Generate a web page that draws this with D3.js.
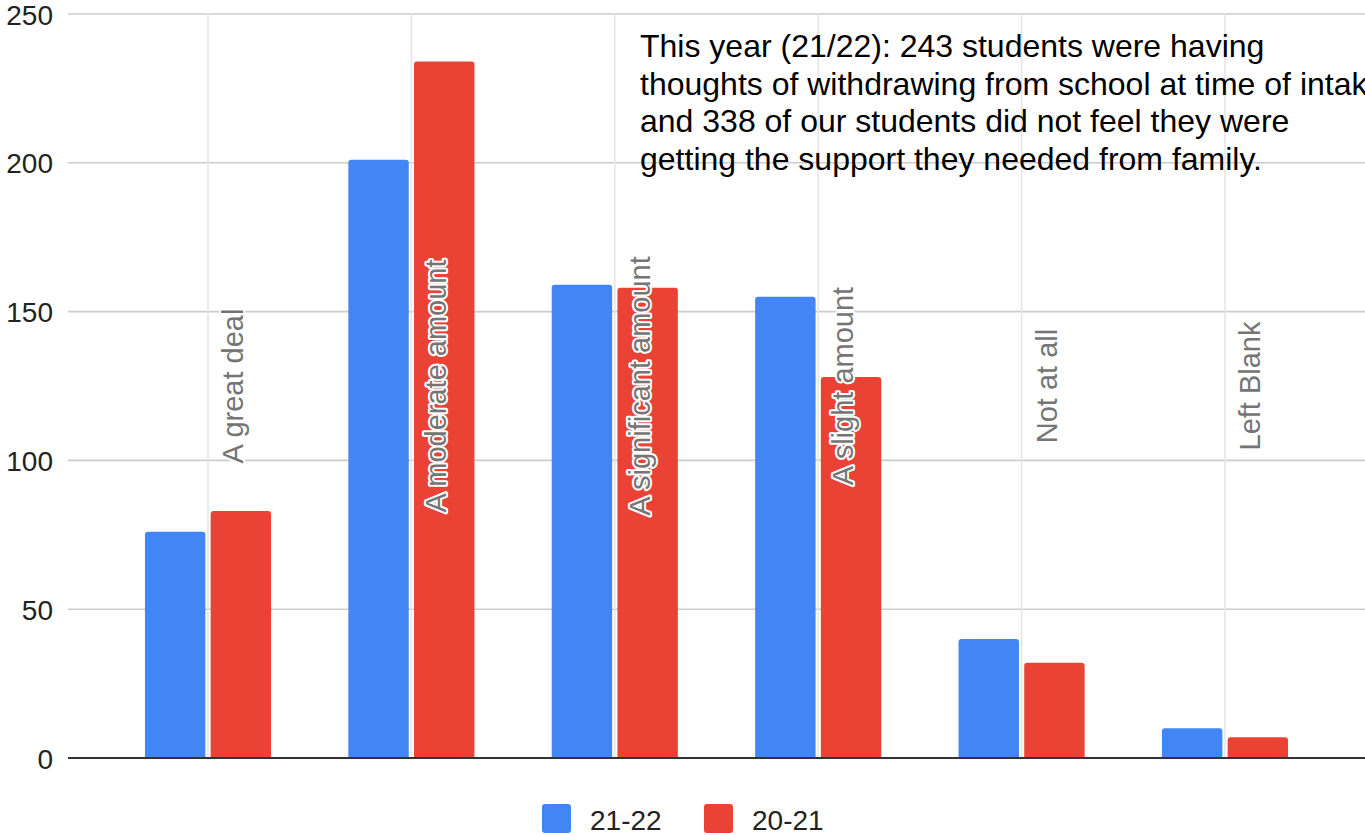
<!DOCTYPE html>
<html>
<head>
<meta charset="utf-8">
<script src="https://cdn.jsdelivr.net/npm/d3@7"></script>
<style>
  html, body { margin: 0; padding: 0; background: #fff; }
  svg { display: block; font-family: "Liberation Sans", Arial, sans-serif; }
</style>
</head>
<body>
<svg id="chart" width="1365" height="835"></svg>
<script>
// Responses per category, two intake years
const categories = ["A great deal", "A moderate amount", "A significant amount", "A slight amount", "Not at all", "Left Blank"];
const seriesNames = ["21-22", "20-21"];
const values2122 = [76, 201, 159, 155, 40, 10];
const values2021 = [83, 234, 158, 128, 32, 7];
const yTicks = [0, 50, 100, 150, 200, 250];
const noteLines = [
  "This year (21/22): 243 students were having",
  "thoughts of withdrawing from school at time of intake",
  "and 338 of our students did not feel they were",
  "getting the support they needed from family."
];
const colors = ["#4285F4", "#EA4335"];

const svg = d3.select("#chart");
const W = 1365, H = 835;
const gridLeft = 68, gridRight = W;

const y = d3.scaleLinear().domain([0, 250]).range([758, 14]);

const x = d3.scaleBand()
  .domain(categories)
  .range([106.3, 1326.7])
  .paddingInner(0.38)
  .paddingOuter(0.19);

const xs = d3.scaleBand()
  .domain(seriesNames)
  .range([0, x.bandwidth()])
  .paddingInner(0.08);

const rows = categories.map((c, i) => ({ cat: c, vals: [values2122[i], values2021[i]] }));

// horizontal gridlines
svg.append("g").selectAll("line")
  .data(yTicks.filter(t => t > 0))
  .join("line")
  .attr("x1", gridLeft).attr("x2", gridRight)
  .attr("y1", d => y(d)).attr("y2", d => y(d))
  .attr("stroke", "#cccccc").attr("stroke-width", 1.6);

// vertical gridlines at category centres
svg.append("g").selectAll("line")
  .data(categories)
  .join("line")
  .attr("x1", d => x(d) + x.bandwidth() / 2).attr("x2", d => x(d) + x.bandwidth() / 2)
  .attr("y1", y(250)).attr("y2", y(0))
  .attr("stroke", "#e6e6e6").attr("stroke-width", 1.6);

// y-axis tick labels
const yAxis = d3.axisLeft(y).tickValues(yTicks).tickSize(0).tickPadding(0);
const yg = svg.append("g").attr("transform", `translate(53,0)`).call(yAxis);
yg.select(".domain").remove();
yg.selectAll("text")
  .attr("font-size", 28)
  .attr("fill", "#222")
  .attr("font-family", "Liberation Sans, Arial, sans-serif")
  .attr("dy", "0.36em");

// annotation text
const note = svg.append("text")
  .attr("x", 640).attr("y", 57)
  .attr("font-size", 32)
  .attr("fill", "#000");
note.selectAll("tspan")
  .data(noteLines)
  .join("tspan")
  .attr("x", 640)
  .attr("y", (d, i) => 57 + i * 37.7)
  .text(d => d);

// bars with rounded top corners
function topRounded(x0, y0, w, h, r) {
  r = Math.min(r, h, w / 2);
  return `M${x0},${y0 + h}V${y0 + r}Q${x0},${y0} ${x0 + r},${y0}H${x0 + w - r}Q${x0 + w},${y0} ${x0 + w},${y0 + r}V${y0 + h}Z`;
}

const groups = svg.append("g").selectAll("g")
  .data(rows)
  .join("g")
  .attr("transform", d => `translate(${x(d.cat)},0)`);

groups.selectAll("path")
  .data(d => d.vals.map((v, i) => ({ v, s: seriesNames[i], i })))
  .join("path")
  .attr("d", d => topRounded(xs(d.s), y(d.v), xs.bandwidth(), y(0) - y(d.v), 3))
  .attr("fill", d => colors[d.i]);

// baseline
svg.append("line")
  .attr("x1", gridLeft).attr("x2", gridRight)
  .attr("y1", y(0)).attr("y2", y(0))
  .attr("stroke", "#333").attr("stroke-width", 2);

// rotated category labels inside the plot
svg.append("g").selectAll("text")
  .data(categories)
  .join("text")
  .attr("transform", d => `translate(${x(d) + x.bandwidth() / 2 + 35},386) rotate(-90)`)
  .attr("text-anchor", "middle")
  .attr("font-size", 29)
  .attr("fill", "#757575")
  .attr("stroke", "#fff")
  .attr("stroke-width", 4)
  .attr("stroke-linejoin", "round")
  .attr("paint-order", "stroke")
  .text(d => d);

// legend
const legend = svg.append("g").selectAll("g")
  .data(seriesNames)
  .join("g")
  .attr("transform", (d, i) => `translate(${i === 0 ? 542 : 704},804)`);
legend.append("rect")
  .attr("width", 29).attr("height", 29).attr("rx", 3)
  .attr("fill", (d, i) => colors[i]);
legend.append("text")
  .attr("x", 48).attr("y", 26)
  .attr("font-size", 28)
  .attr("fill", "#222")
  .text(d => d);
</script>
</body>
</html>
